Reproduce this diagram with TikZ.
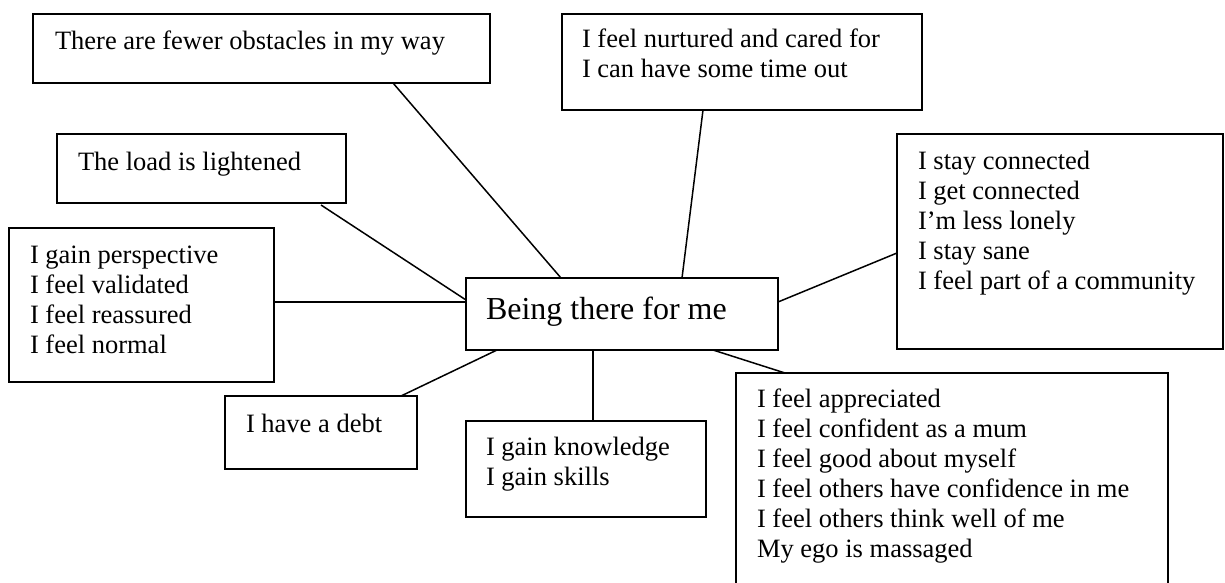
\documentclass[tikz,border=0pt]{standalone}
\usepackage{fontspec}
\setmainfont{Liberation Serif}
\usetikzlibrary{calc}
% left-aligned block of lines whose baseline is that of its first line
\newcommand\linesblock[1]{\begin{tabular}[t]{@{}l@{}}#1\end{tabular}}
\begin{document}
\begin{tikzpicture}[x=1pt,y=-1pt,
  frame/.style={draw, line width=1.5pt, inner sep=0pt, outer sep=0pt, anchor=north west},
  caption/.style={anchor=base west, inner sep=0pt, outer sep=0pt, font=\fontsize{26.5}{30}\selectfont},
  link/.style={line width=1.5pt}]
\useasboundingbox (0,0) rectangle (1225,583);
\clip (0,0) rectangle (1225,583);
\fill[white] (0,0) rectangle (1225,583);

% frames
\node[frame, minimum width=457pt, minimum height=69pt]  (obst)  at (33,14)   {};
\node[frame, minimum width=360pt, minimum height=96pt]  (nurt)  at (562,14)  {};
\node[frame, minimum width=289pt, minimum height=69pt]  (load)  at (57,134)  {};
\node[frame, minimum width=326pt, minimum height=215pt] (conn)  at (897,134) {};
\node[frame, minimum width=265pt, minimum height=154pt] (persp) at (9,228)   {};
\node[frame, minimum width=312pt, minimum height=72pt]  (hub)   at (466,278) {};
\node[frame, minimum width=192pt, minimum height=73pt]  (debt)  at (225,396) {};
\node[frame, minimum width=240pt, minimum height=96pt]  (know)  at (466,421) {};
\node[frame, minimum width=432pt, minimum height=240pt] (appr)  at (736,373) {};

% texts
\node[caption] (obstT)  at (55,50)   {There are fewer obstacles in my way};
\node[caption] (nurtT)  at (582,48)  {\linesblock{I feel nurtured and cared for\\I can have some time out}};
\node[caption] (loadT)  at (78,170)  {The load is lightened};
\node[caption] (connT)  at (918,169) {\linesblock{I stay connected\\I get connected\\I’m less lonely\\I stay sane\\I feel part of a community}};
\node[caption] (perspT) at (30,263)  {\linesblock{I gain perspective\\I feel validated\\I feel reassured\\I feel normal}};
\node[caption, font=\fontsize{32}{36}\selectfont] (hubT) at (486,319) {Being there for me};
\node[caption] (debtT)  at (246,432) {I have a debt};
\node[caption] (knowT)  at (486,455) {\linesblock{I gain knowledge\\I gain skills}};
\node[caption] (apprT)  at (757,407) {\linesblock{I feel appreciated\\I feel confident as a mum\\I feel good about myself\\I feel others have confidence in me\\I feel others think well of me\\My ego is massaged}};

% connectors to the central frame
\draw[link] ([xshift=360pt]obst.south west)  -- ([xshift=95pt]hub.north west);
\draw[link] ([xshift=141pt]nurt.south west)  -- ([xshift=216pt]hub.north west);
\draw[link] ([xshift=264pt,yshift=-2pt]load.south west) -- ([yshift=-22pt]hub.north west);
\draw[link] ([yshift=-74pt]persp.north east) -- ([yshift=-24pt]hub.north west);
\draw[link] ([yshift=-119pt]conn.north west) -- ([yshift=-24pt]hub.north east);
\draw[link] ([xshift=176pt]debt.north west)  -- ([xshift=31pt]hub.south west);
\draw[link] ([xshift=127pt]know.north west)  -- ([xshift=127pt]hub.south west);
\draw[link] ([xshift=49pt]appr.north west)   -- ([xshift=247pt]hub.south west);
\end{tikzpicture}
\end{document}
